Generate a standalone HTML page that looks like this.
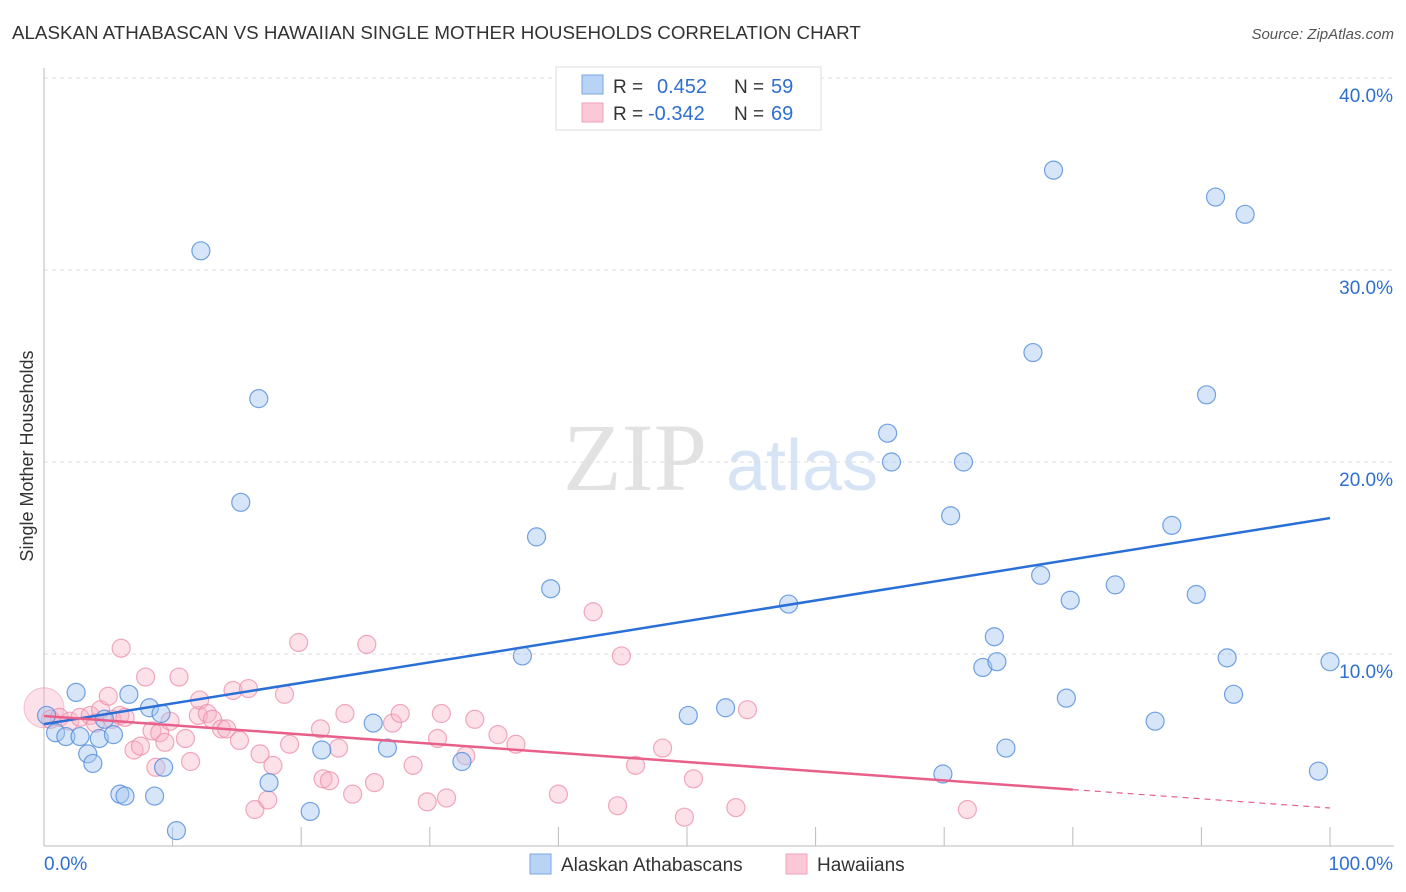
<!DOCTYPE html>
<html><head><meta charset="utf-8"><style>
body{margin:0;background:#fff;font-family:"Liberation Sans",sans-serif;}
svg{display:block}
</style></head><body>
<svg id="chart" width="1406" height="892" xmlns="http://www.w3.org/2000/svg">
<text x="12" y="39" font-size="18.75" fill="#333">ALASKAN ATHABASCAN VS HAWAIIAN SINGLE MOTHER HOUSEHOLDS CORRELATION CHART</text>
<text x="1394" y="39" font-size="15" fill="#555" font-style="italic" text-anchor="end">Source: ZipAtlas.com</text>
<text x="33" y="456" font-size="18" fill="#333" text-anchor="middle" transform="rotate(-90 33 456)">Single Mother Households</text>
<g>
<text x="635" y="490" font-size="96" font-family="Liberation Serif,serif" fill="#e2e2e2" text-anchor="middle">ZIP</text>
<text x="802" y="490" font-size="72" fill="#d6e4f5" text-anchor="middle">atlas</text>
</g>
<g id="grid"></g><g id="axes"></g><g id="pts"></g><g id="lines"></g>
<g>
<rect x="556" y="67" width="265" height="63" fill="#fff" stroke="#ddd"/>
<rect x="582" y="75" width="21" height="19" fill="#b9d3f5" stroke="#7aa7e2"/>
<rect x="582" y="103" width="21" height="19" fill="#fbc8d7" stroke="#f0a0ba"/>
<text x="613" y="93" font-size="19" fill="#333">R =</text><text x="657" y="93" font-size="20" fill="#2f6fd0">0.452</text>
<text x="734" y="93" font-size="19" fill="#333">N =</text><text x="771" y="93" font-size="20" fill="#2f6fd0">59</text>
<text x="613" y="120" font-size="19" fill="#333">R =</text><text x="648" y="120" font-size="20" fill="#2f6fd0">-0.342</text>
<text x="734" y="120" font-size="19" fill="#333">N =</text><text x="771" y="120" font-size="20" fill="#2f6fd0">69</text>
</g>
<g>
<rect x="530" y="854" width="21" height="20" fill="#b9d3f5" stroke="#7aa7e2"/>
<text x="561" y="871" font-size="19" fill="#333">Alaskan Athabascans</text>
<rect x="786" y="854" width="21" height="20" fill="#fbc8d7" stroke="#f0a0ba"/>
<text x="817" y="871" font-size="19" fill="#333">Hawaiians</text>
</g>
</svg>
<script>
const yTicks=[10,20,30,40];
const yTickLabels=["10.0%","20.0%","30.0%","40.0%"];
const xTickVals=[0,10,20,30,40,50,60,70,80,90,100];
const blueX=[0.2,0.9,1.7,2.5,2.8,3.4,3.8,4.3,4.7,5.4,5.9,6.3,6.6,8.2,8.6,9.1,9.3,10.3,12.2,15.3,16.7,17.5,20.7,21.6,25.6,26.7,32.5,38.3,39.4,37.2,50.1,53.0,57.9,65.6,65.9,69.9,70.5,71.5,73.0,73.9,74.1,74.8,76.9,77.5,78.5,79.5,79.8,83.3,86.4,87.7,89.6,90.4,91.1,92.0,92.5,93.4,99.1,100];
const blueY=[6.8,5.9,5.7,8.0,5.7,4.8,4.3,5.6,6.6,5.8,2.7,2.6,7.9,7.2,2.6,6.9,4.1,0.8,31.0,17.9,23.3,3.3,1.8,5.0,6.4,5.1,4.4,16.1,13.4,9.9,6.8,7.2,12.6,21.5,20.0,3.75,17.2,20.0,9.3,10.9,9.6,5.1,25.7,14.1,35.2,7.7,12.8,13.6,6.5,16.7,13.1,23.5,33.8,9.8,7.9,32.9,3.9,9.6];
const pinkX=[0.5,1.2,2.0,2.8,3.6,4.0,4.4,5.0,5.3,5.9,6.3,7.0,7.5,7.9,6.0,8.4,8.7,9.0,9.4,9.8,10.5,11.0,11.4,12.0,12.1,12.7,13.1,13.8,14.2,14.7,15.2,15.9,16.4,16.8,17.4,17.8,18.7,19.1,19.8,21.5,21.7,22.2,22.9,23.4,24.0,25.1,25.7,27.1,27.7,28.7,29.8,30.6,30.9,31.3,33.5,32.8,35.3,36.7,40.0,42.7,44.6,44.9,46.0,48.1,49.8,50.5,53.8,54.7,71.8];
const pinkY=[6.6,6.7,6.5,6.7,6.8,6.4,7.1,7.8,6.6,6.8,6.7,5.0,5.2,8.8,10.3,6.0,4.1,5.9,5.4,6.5,8.8,5.6,4.4,6.8,7.6,6.9,6.6,6.1,6.1,8.1,5.5,8.2,1.9,4.8,2.4,4.2,7.9,5.3,10.6,6.1,3.5,3.4,5.1,6.9,2.7,10.5,3.3,6.4,6.9,4.2,2.3,5.6,6.9,2.5,6.6,4.7,5.8,5.3,2.7,12.2,2.1,9.9,4.2,5.1,1.5,3.5,2.0,7.1,1.9];
const blueTrend=[6.35,17.08];
const pinkTrend=[6.77,1.98];
const pinkSolidEnd=80;
const NS="http://www.w3.org/2000/svg";
const X=v=>44+v*12.86, Y=v=>846-v*19.2;
function mk(tag,attrs,parent){const e=document.createElementNS(NS,tag);for(const k in attrs)e.setAttribute(k,attrs[k]);parent.appendChild(e);return e;}
const grid=document.getElementById('grid'),axes=document.getElementById('axes'),pts=document.getElementById('pts'),lines=document.getElementById('lines');
yTicks.forEach((t,i)=>{
 const l=mk('line',{x1:44,x2:1394,y1:Y(t),y2:Y(t),stroke:'#ddd','stroke-dasharray':'4,4'},grid);
 
 
 const tx=mk('text',{x:1393,y:Y(t)+24,'font-size':19,fill:'#2f6fd0','text-anchor':'end'},axes);
 tx.textContent=yTickLabels[i];
 
 
});
const ax=mk('line',{x1:44,x2:44,y1:68,y2:846,stroke:'#bbb'},axes);


const bx=mk('line',{x1:44,x2:1394,y1:846,y2:846,stroke:'#bbb'},axes);


xTickVals.forEach(t=>{const l=mk('line',{x1:X(t),x2:X(t),y1:827,y2:846,stroke:'#bbb'},axes);
 
 });
[[0,"0.0%","start",44],[100,"100.0%","end",1393]].forEach(a=>{const t=mk('text',{x:a[3],y:870,'font-size':19,fill:'#2f6fd0','text-anchor':a[2]},axes);t.textContent=a[1];
 
 });
const big=mk('circle',{cx:X(0),cy:Y(7.2),r:20,fill:'rgba(245,170,195,0.35)',stroke:'rgba(235,140,170,0.5)'},pts);


pinkX.forEach((x,i)=>{const c=mk('circle',{cx:X(x),cy:Y(pinkY[i]),r:9,fill:'rgba(247,175,198,0.38)',stroke:'rgba(236,140,170,0.75)','stroke-width':1.2},pts);
 
 });
blueX.forEach((x,i)=>{const c=mk('circle',{cx:X(x),cy:Y(blueY[i]),r:9,fill:'rgba(165,198,240,0.45)',stroke:'rgba(80,140,220,0.8)','stroke-width':1.2},pts);
 
 });
const bl=mk('line',{x1:X(0),y1:Y(blueTrend[0]),x2:X(100),y2:Y(blueTrend[1]),stroke:'#2a6fd6','stroke-width':2.5},lines);


const pAt=v=>pinkTrend[0]+(pinkTrend[1]-pinkTrend[0])*v/100;
const pl=mk('line',{x1:X(0),y1:Y(pinkTrend[0]),x2:X(pinkSolidEnd),y2:Y(pAt(pinkSolidEnd)),stroke:'#e8608a','stroke-width':2.5},lines);


const pd=mk('line',{x1:X(pinkSolidEnd),y1:Y(pAt(pinkSolidEnd)),x2:X(100),y2:Y(pinkTrend[1]),stroke:'#e8608a','stroke-width':1.2,'stroke-dasharray':'6,5'},lines);


</script>
</body></html>
